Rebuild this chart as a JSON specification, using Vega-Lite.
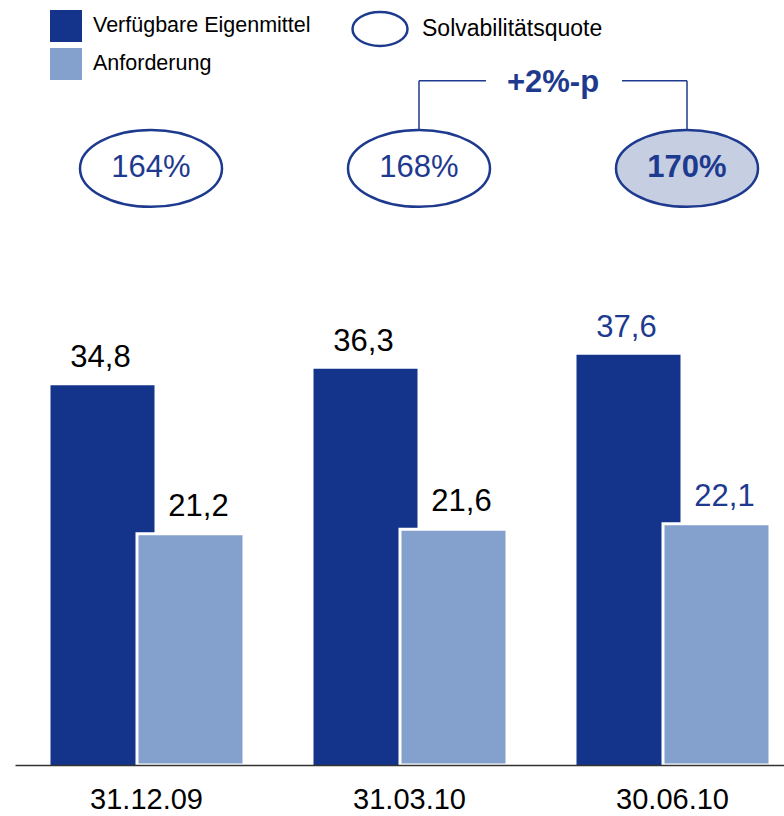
{
  "$schema": "https://vega.github.io/schema/vega-lite/v6.json",
  "width": 769,
  "height": 765,
  "autosize": {"type": "none"},
  "padding": {"left": 15, "top": 0, "right": 0, "bottom": 51},
  "config": {
    "font": "Liberation Sans",
    "view": {"stroke": null},
    "locale": {"number": {"decimal": ",", "thousands": ".", "grouping": [3], "currency": ["", " €"]}},
    "legend": {"labelLimit": 500}
  },
  "datasets": {
    "bars": [
      {"date": "31.12.09", "series": "Verfügbare Eigenmittel", "value": 34.8},
      {"date": "31.12.09", "series": "Anforderung", "value": 21.2},
      {"date": "31.03.10", "series": "Verfügbare Eigenmittel", "value": 36.3},
      {"date": "31.03.10", "series": "Anforderung", "value": 21.6},
      {"date": "30.06.10", "series": "Verfügbare Eigenmittel", "value": 37.6},
      {"date": "30.06.10", "series": "Anforderung", "value": 22.1}
    ],
    "ratio": [
      {"date": "31.12.09", "quote": 1.64},
      {"date": "31.03.10", "quote": 1.68},
      {"date": "30.06.10", "quote": 1.70}
    ],
    "change": [
      {"from": "31.03.10", "to": "30.06.10", "label": "+2%-p"}
    ]
  },
  "layer": [
    {
      "data": {"name": "bars"},
      "encoding": {
        "x": {
          "field": "date", "type": "nominal", "sort": null,
          "scale": {"type": "band", "domain": ["31.12.09", "31.03.10", "30.06.10"], "range": [0, 789], "paddingInner": 0, "paddingOuter": 0},
          "axis": {"title": null, "orient": "bottom", "ticks": false, "labelAngle": 0, "labelFontSize": 29, "labelColor": "#000000", "labelPadding": 20, "domainColor": "#333333", "domainWidth": 1.5, "grid": false, "zindex": 1}
        },
        "y": {
          "field": "value", "type": "quantitative",
          "scale": {"domain": [0, 70.1], "nice": false, "zero": true},
          "axis": null
        }
      },
      "layer": [
        {
          "transform": [{"filter": "datum.series === 'Verfügbare Eigenmittel'"}],
          "mark": {"type": "bar", "width": 104, "xOffset": -44},
          "encoding": {
            "color": {
              "field": "series", "type": "nominal",
              "scale": {"domain": ["Verfügbare Eigenmittel", "Anforderung"], "range": ["#13348A", "#84A0CC"]},
              "legend": {"orient": "none", "legendX": 35, "legendY": 10, "title": null, "symbolType": "square", "symbolSize": 1024, "symbolStrokeWidth": 0, "symbolOpacity": 1, "labelFontSize": 21.5, "labelOffset": 11, "rowPadding": 6, "padding": 0, "labelColor": "#000000"}
            }
          }
        },
        {
          "transform": [{"filter": "datum.series === 'Anforderung'"}],
          "mark": {"type": "bar", "width": 107, "xOffset": 44, "stroke": "white", "strokeWidth": 3},
          "encoding": {
            "color": {"field": "series", "type": "nominal"}
          }
        },
        {
          "transform": [{"filter": "datum.series === 'Verfügbare Eigenmittel'"}],
          "mark": {"type": "text", "xOffset": -46, "dy": -18, "baseline": "alphabetic", "fontSize": 31},
          "encoding": {
            "text": {"field": "value", "type": "quantitative", "format": ".1f"},
            "fill": {"condition": {"test": "datum.date === '30.06.10'", "value": "#1E3A8E"}, "value": "#000000"}
          }
        },
        {
          "transform": [{"filter": "datum.series === 'Anforderung'"}],
          "mark": {"type": "text", "xOffset": 52, "dy": -18, "baseline": "alphabetic", "fontSize": 31},
          "encoding": {
            "text": {"field": "value", "type": "quantitative", "format": ".1f"},
            "fill": {"condition": {"test": "datum.date === '30.06.10'", "value": "#1E3A8E"}, "value": "#000000"}
          }
        }
      ]
    },
    {
      "layer": [
        {
          "data": {"name": "ratio"},
          "mark": {"type": "point", "shape": "M-1,0A1,0.542,0,1,0,1,0A1,0.542,0,1,0,-1,0Z", "size": 20164, "strokeWidth": 2.5, "opacity": 1, "filled": false},
          "encoding": {
            "x": {
              "field": "date", "type": "nominal", "sort": null,
              "scale": {"type": "band", "domain": ["31.12.09", "31.03.10", "30.06.10"], "range": [2, 806], "paddingInner": 0, "paddingOuter": 0},
              "axis": null
            },
            "y": {"datum": 54.67, "type": "quantitative"},
            "fill": {"condition": {"test": "datum.date === '30.06.10'", "value": "#C6CEE2"}, "value": "#FFFFFF"},
            "stroke": {
              "datum": "Solvabilitätsquote", "type": "nominal",
              "scale": {"range": ["#1E3A8E"]},
              "legend": {"orient": "none", "legendX": 336, "legendY": 0, "title": null, "symbolType": "M-1,0A1,0.618,0,1,0,1,0A1,0.618,0,1,0,-1,0Z", "symbolSize": 3025, "symbolStrokeWidth": 2.5, "symbolFillColor": "#FFFFFF", "symbolOpacity": 1, "labelFontSize": 23, "labelOffset": 13, "padding": 0, "labelColor": "#000000"}
            }
          }
        },
        {
          "data": {"name": "ratio"},
          "transform": [{"filter": "datum.date !== '30.06.10'"}],
          "mark": {"type": "text", "fontSize": 31, "baseline": "middle", "fill": "#1E3A8E"},
          "encoding": {
            "x": {"field": "date", "type": "nominal"},
            "y": {"datum": 54.67, "type": "quantitative"},
            "text": {"field": "quote", "type": "quantitative", "format": ".0%"}
          }
        },
        {
          "data": {"name": "ratio"},
          "transform": [{"filter": "datum.date === '30.06.10'"}],
          "mark": {"type": "text", "fontSize": 31, "fontWeight": "bold", "baseline": "middle", "fill": "#1E3A8E"},
          "encoding": {
            "x": {"field": "date", "type": "nominal"},
            "y": {"datum": 54.67, "type": "quantitative"},
            "text": {"field": "quote", "type": "quantitative", "format": ".0%"}
          }
        },
        {
          "data": {"name": "change"},
          "mark": {"type": "rule", "color": "#1E3A8E", "strokeWidth": 1.5},
          "encoding": {
            "x": {"field": "from", "type": "nominal"},
            "y": {"datum": 62.69, "type": "quantitative"},
            "y2": {"datum": 58.2}
          }
        },
        {
          "data": {"name": "change"},
          "mark": {"type": "rule", "color": "#1E3A8E", "strokeWidth": 1.5},
          "encoding": {
            "x": {"field": "to", "type": "nominal"},
            "y": {"datum": 62.69, "type": "quantitative"},
            "y2": {"datum": 58.2}
          }
        },
        {
          "data": {"name": "change"},
          "mark": {"type": "rule", "color": "#1E3A8E", "strokeWidth": 1.5, "x2Offset": 67},
          "encoding": {
            "x": {"field": "from", "type": "nominal"},
            "x2": {"field": "from"},
            "y": {"datum": 62.69, "type": "quantitative"}
          }
        },
        {
          "data": {"name": "change"},
          "mark": {"type": "rule", "color": "#1E3A8E", "strokeWidth": 1.5, "xOffset": -65},
          "encoding": {
            "x": {"field": "to", "type": "nominal"},
            "x2": {"field": "to"},
            "y": {"datum": 62.69, "type": "quantitative"}
          }
        },
        {
          "data": {"name": "change"},
          "mark": {"type": "text", "fontSize": 31, "fontWeight": "bold", "baseline": "alphabetic", "fill": "#1E3A8E", "xOffset": 134},
          "encoding": {
            "x": {"field": "from", "type": "nominal"},
            "y": {"datum": 61.69, "type": "quantitative"},
            "text": {"field": "label", "type": "nominal"}
          }
        }
      ]
    }
  ],
  "resolve": {"scale": {"x": "independent"}}
}
